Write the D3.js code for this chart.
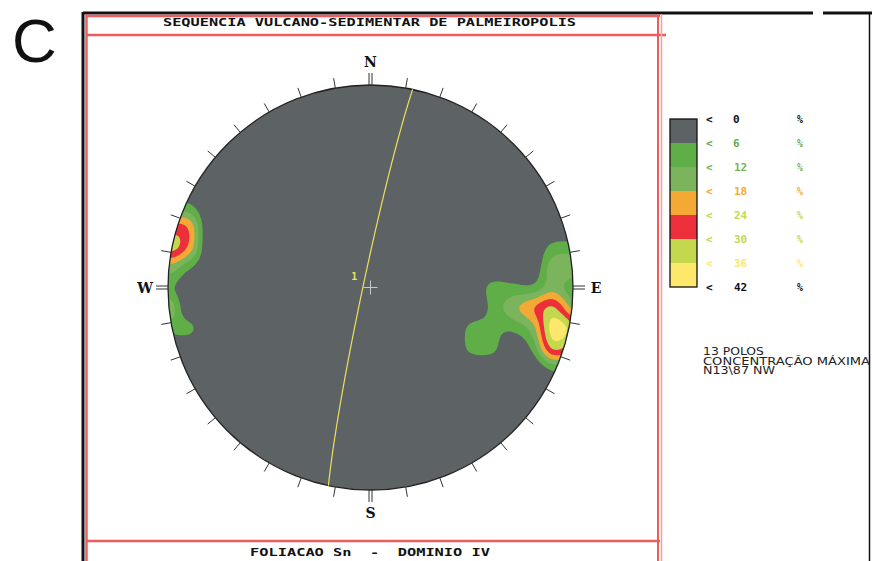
<!DOCTYPE html>
<html><head><meta charset="utf-8">
<script src="https://cdn.jsdelivr.net/npm/d3@7"></script>
<style>body{margin:0;background:#fff;} svg{display:block}</style>
</head><body>
<svg id="chart" width="872" height="561"></svg>
<script>
// ---------------- DATA ----------------
const panelLabel = "C";
const titleTop = "SEQUENCIA VULCANO-SEDIMENTAR DE PALMEIROPOLIS";
const titleBottom = "FOLIACAO Sn  -  DOMINIO IV";
const cardinalLabels = ["N", "E", "S", "W"];
const cardinalAzimuths = [0, 90, 180, 270];
// 13 poles to foliation Sn (trend, plunge in degrees)
const poleTrend  = [104.8, 103.8, 99.0, 110.1, 96.8, 97.9, 106.3, 99.2, 92.9, 114.4, 94.6, 81.2, 87.2];
const polePlunge = [2.5,   4.1,   4.8,  1.6,   2.6,  12.5, 12.3,  25.2, 18.8, 39.4,  35.1, 5.9,  5.4];
// maximum concentration plane N13\87 NW
const planeStrike = [12];
const planeDip = [87];
const planeLabels = ["1"];
// legend
const legendLevels = [0, 6, 12, 18, 24, 30, 36, 42];
const bandColors = ["#5d6265", "#60ae48", "#7bb45c", "#f5a935", "#ec2f3b", "#c3d84d", "#fde86c"];
const levelTextColors = ["#111111", "#60ae48", "#7bb45c", "#f5a935", "#c3d84d", "#c3d84d", "#fde86c", "#111111"];
const infoLines = ["13 POLOS", "CONCENTRAÇÃO MÁXIMA", "N13\\87 NW"];

// ---------------- SETUP ----------------
const svg = d3.select("#chart");
const cx = 370.5, cy = 287.5, R = 202.5;
const rad = Math.PI / 180;
const xS = d3.scaleLinear().domain([-1, 1]).range([cx - R, cx + R]);
const yS = d3.scaleLinear().domain([-1, 1]).range([cy + R, cy - R]);

function proj(trend, plunge) { // Schmidt equal-area lower hemisphere, unit circle (x east, y north)
  const r = Math.SQRT2 * Math.sin((90 - plunge) / 2 * rad);
  return [r * Math.sin(trend * rad), r * Math.cos(trend * rad)];
}
function vec(trend, plunge) {
  return [Math.cos(plunge * rad) * Math.sin(trend * rad), Math.cos(plunge * rad) * Math.cos(trend * rad), Math.sin(plunge * rad)];
}

// ---------------- FRAME ----------------
const red = "#f15b5c";
const fr = svg.append("g");
fr.append("line").attr("x1", 83).attr("x2", 813).attr("y1", 13).attr("y2", 13).attr("stroke", "#111").attr("stroke-width", 3);
fr.append("line").attr("x1", 823).attr("x2", 872).attr("y1", 13).attr("y2", 13).attr("stroke", "#111").attr("stroke-width", 3);
fr.append("line").attr("x1", 83).attr("x2", 83).attr("y1", 12).attr("y2", 561).attr("stroke", "#111").attr("stroke-width", 3);
fr.append("line").attr("x1", 869.5).attr("x2", 869.5).attr("y1", 12).attr("y2", 561).attr("stroke", "#111").attr("stroke-width", 1.5);
fr.append("line").attr("x1", 86.5).attr("x2", 86.5).attr("y1", 14).attr("y2", 561).attr("stroke", red).attr("stroke-width", 2.5);
fr.append("line").attr("x1", 86).attr("x2", 660).attr("y1", 16).attr("y2", 16).attr("stroke", red).attr("stroke-width", 2.5);
fr.append("line").attr("x1", 86).attr("x2", 666).attr("y1", 35).attr("y2", 35).attr("stroke", red).attr("stroke-width", 2.5);
fr.append("line").attr("x1", 86).attr("x2", 660).attr("y1", 541).attr("y2", 541).attr("stroke", red).attr("stroke-width", 2.5);
fr.append("line").attr("x1", 658).attr("x2", 658).attr("y1", 14).attr("y2", 561).attr("stroke", red).attr("stroke-width", 2);
fr.append("line").attr("x1", 661.5).attr("x2", 661.5).attr("y1", 14).attr("y2", 561).attr("stroke", "#f7a2a2").attr("stroke-width", 1.5);

svg.append("text").attr("x", 12).attr("y", 62).attr("font-family", "Liberation Sans, Arial, sans-serif")
  .attr("font-size", 62).attr("fill", "#111").text(panelLabel);

svg.append("text").attr("x", 163).attr("y", 26).attr("font-family", "DejaVu Sans Mono, monospace").attr("font-weight", "bold")
  .attr("font-size", 11).attr("textLength", 413).attr("lengthAdjust", "spacingAndGlyphs").attr("fill", "#111").text(titleTop);
svg.append("text").attr("x", 250).attr("y", 556).attr("font-family", "DejaVu Sans Mono, monospace").attr("font-weight", "bold")
  .attr("font-size", 11).attr("textLength", 240).attr("lengthAdjust", "spacingAndGlyphs").attr("fill", "#111")
  .attr("xml:space", "preserve").style("white-space", "pre").text(titleBottom);

// ---------------- DENSITY: 1% counting circle on a 0.1R node grid ----------------
const step = 0.1, K = 11, nn = 2 * K + 1, rho = 0.1;
const polesS = poleTrend.map((t, i) => { const p = proj(t, polePlunge[i]); return [p[0], -p[1]]; }); // screen-unit (y down)
const ghosts = polesS.filter(p => Math.hypot(p[0], p[1]) > 1 - rho)
  .map(p => { const r = Math.hypot(p[0], p[1]); return [-p[0] / r, -p[1] / r]; }); // peripheral counter wrap
const counted = polesS.concat(ghosts);
const nodes = new Float64Array(nn * nn);
for (let m = 0; m < nn; m++) for (let k = 0; k < nn; k++) {
  const x = (k - K) * step, y = (m - K) * step;
  const c = counted.filter(p => Math.hypot(p[0] - x, p[1] - y) < rho).length;
  nodes[m * nn + k] = c * 100 / poleTrend.length;
}
const nodeAt = (k, m) => nodes[Math.max(0, Math.min(nn - 1, m)) * nn + Math.max(0, Math.min(nn - 1, k))];
const cr = (p0, p1, p2, p3, t) => 0.5 * (2 * p1 + (-p0 + p2) * t + (2 * p0 - 5 * p1 + 4 * p2 - p3) * t * t + (-p0 + 3 * p1 - 3 * p2 + p3) * t * t * t);
const nf = 221; // fine grid, step 0.01
const values = new Float64Array(nf * nf);
for (let j = 0; j < nf; j++) for (let i = 0; i < nf; i++) {
  const fk = i / 10, fm = j / 10;
  const k0 = Math.min(Math.floor(fk), nn - 2), m0 = Math.min(Math.floor(fm), nn - 2);
  const t = fk - k0, s = fm - m0;
  const rows = [-1, 0, 1, 2].map(dm => cr(nodeAt(k0 - 1, m0 + dm), nodeAt(k0, m0 + dm), nodeAt(k0 + 1, m0 + dm), nodeAt(k0 + 2, m0 + dm), t));
  values[j * nf + i] = cr(rows[0], rows[1], rows[2], rows[3], s);
}
const gx = d3.scaleLinear().domain([0.5, nf - 0.5]).range([cx - 1.1 * R, cx + 1.1 * R]);
const gy = d3.scaleLinear().domain([0.5, nf - 0.5]).range([cy - 1.1 * R, cy + 1.1 * R]);
const gpath = d3.geoPath(d3.geoTransform({ point(x, y) { this.stream.point(gx(x), gy(y)); } }));
const contours = d3.contours().size([nf, nf]).thresholds(legendLevels.slice(1, 7))(values);

svg.append("clipPath").attr("id", "net").append("circle").attr("cx", cx).attr("cy", cy).attr("r", R);
const net = svg.append("g").attr("clip-path", "url(#net)");
net.append("circle").attr("cx", cx).attr("cy", cy).attr("r", R).attr("fill", bandColors[0]);
net.selectAll("path.c").data(contours).join("path").attr("class", "c")
  .attr("d", gpath).attr("fill", (d, i) => bandColors[i + 1]);

svg.append("circle").attr("cx", cx).attr("cy", cy).attr("r", R).attr("fill", "none").attr("stroke", "#222").attr("stroke-width", 1.3);

// ticks
const tickAz = d3.range(0, 360, 10).filter(a => a % 90 !== 0);
svg.selectAll("line.t").data(tickAz).join("line").attr("class", "t")
  .attr("x1", a => cx + R * Math.sin(a * rad)).attr("y1", a => cy - R * Math.cos(a * rad))
  .attr("x2", a => cx + (R + 10) * Math.sin(a * rad)).attr("y2", a => cy - (R + 10) * Math.cos(a * rad))
  .attr("stroke", "#333").attr("stroke-width", 1);
cardinalAzimuths.forEach((a, k) => {
  [-1.5, 1.5].forEach(o => {
    const px = Math.cos(a * rad) * o, py = Math.sin(a * rad) * o;
    svg.append("line")
      .attr("x1", cx + R * Math.sin(a * rad) + px).attr("y1", cy - R * Math.cos(a * rad) + py)
      .attr("x2", cx + (R + 12) * Math.sin(a * rad) + px).attr("y2", cy - (R + 12) * Math.cos(a * rad) + py)
      .attr("stroke", "#333").attr("stroke-width", 1);
  });
  svg.append("text").attr("x", cx + (R + 23) * Math.sin(a * rad)).attr("y", cy - (R + 23) * Math.cos(a * rad) + 5)
    .attr("text-anchor", "middle").attr("font-family", "DejaVu Serif, serif").attr("font-weight", "bold")
    .attr("font-size", 14).attr("fill", "#111").text(cardinalLabels[k]);
});

// great circle
planeStrike.forEach((s, k) => {
  const dd = s - 90, dip = planeDip[k];
  const sv = [Math.sin(s * rad), Math.cos(s * rad), 0];
  const dv = vec(dd, dip);
  const pts = d3.range(0, 180.01, 1).map(a => {
    const v = [0, 1, 2].map(q => Math.cos(a * rad) * sv[q] + Math.sin(a * rad) * dv[q]);
    const pl = Math.asin(Math.max(-1, Math.min(1, v[2]))) / rad;
    const tr = Math.atan2(v[0], v[1]) / rad;
    return proj(tr, pl);
  });
  svg.append("path").attr("d", d3.line().x(p => xS(p[0])).y(p => yS(p[1]))(pts))
    .attr("fill", "none").attr("stroke", "#eee05a").attr("stroke-width", 1.2);
  const mid = pts[90];
  svg.append("text").attr("x", xS(mid[0]) - 12).attr("y", yS(mid[1]) - 6).attr("font-family", "DejaVu Sans Mono, monospace")
    .attr("font-weight", "bold").attr("font-size", 10).attr("fill", "#eee05a").text(planeLabels[k]);
});

// center cross
svg.append("line").attr("x1", xS(0) - 7).attr("x2", xS(0) + 7).attr("y1", yS(0)).attr("y2", yS(0)).attr("stroke", "#c8c8c8").attr("stroke-width", 1);
svg.append("line").attr("x1", xS(0)).attr("x2", xS(0)).attr("y1", yS(0) - 7).attr("y2", yS(0) + 7).attr("stroke", "#c8c8c8").attr("stroke-width", 1);

// ---------------- LEGEND ----------------
const ly = d3.scaleLinear().domain([0, 7]).range([119, 287]);
const lg = svg.append("g");
lg.selectAll("rect").data(bandColors).join("rect")
  .attr("x", 670).attr("width", 27).attr("y", (d, i) => ly(i)).attr("height", ly(1) - ly(0)).attr("fill", d => d);
lg.append("rect").attr("x", 670).attr("y", ly(0)).attr("width", 27).attr("height", ly(7) - ly(0))
  .attr("fill", "none").attr("stroke", "#111").attr("stroke-width", 1.3);
legendLevels.forEach((v, i) => {
  const y = ly(i) + 4;
  const f = levelTextColors[i];
  lg.append("text").attr("x", 706).attr("y", y).attr("font-family", "DejaVu Sans Mono, monospace").attr("font-weight", "bold")
    .attr("font-size", 11).attr("fill", f).text("<");
  lg.append("text").attr("x", v < 10 ? 733 : 734).attr("y", y).attr("font-family", "DejaVu Sans Mono, monospace").attr("font-weight", "bold")
    .attr("font-size", 11).attr("fill", f).text(v);
  lg.append("text").attr("x", 797).attr("y", y).attr("font-family", "DejaVu Sans Mono, monospace").attr("font-weight", "bold")
    .attr("font-size", 10).attr("fill", f).text("%");
});

const info = svg.append("g");
const infoW = [61, 167, 72];
infoLines.forEach((t, i) => {
  info.append("text").attr("x", 703).attr("y", 355 + i * 9.5).attr("font-family", "DejaVu Sans, sans-serif")
    .attr("font-size", 10).attr("textLength", infoW[i]).attr("lengthAdjust", "spacingAndGlyphs").attr("fill", "#222").text(t);
});
</script>
</body></html>
